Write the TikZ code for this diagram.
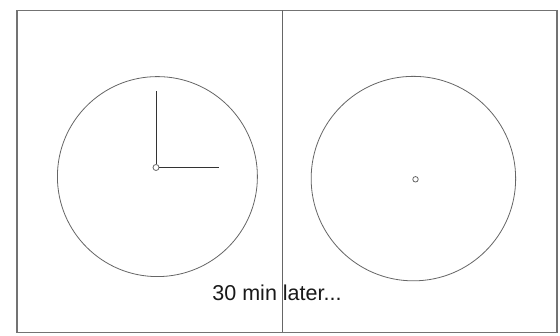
\documentclass[tikz,border=0pt]{standalone}
\usepackage{fontspec}
\setmainfont{Liberation Sans}
\begin{document}
\begin{tikzpicture}[x=1pt,y=-1pt,
  frame/.style={draw=black!55,line width=1.2pt},
  divider/.style={draw=black!60,line width=1pt},
  dial/.style={draw=black!60,line width=0.8pt},
  hand/.style={draw=black!80,line width=0.9pt},
  pivot/.style={circle,draw=black!60,line width=0.8pt,minimum size=6pt,inner sep=0pt},
  caption/.style={font=\fontsize{21.5}{24}\selectfont,text=black!90,anchor=base,inner sep=0pt}]
\useasboundingbox (0,0) rectangle (560,336);
\fill[white] (0,0) rectangle (560,336);
% frame and divider
\draw[frame] (17,10.5) rectangle (557,332.5);
\coordinate (dtop) at (282.5,10.5);
\coordinate (dbot) at (282.5,332.5);
\draw[divider] (dtop) -- (dbot);
% left clock
\node[circle,dial,minimum size=200pt,inner sep=0pt] (lface) at (157.4,176.6) {};
\node[pivot] (lpiv) at (156,167.5) {};
\coordinate (lmin) at (156,91.5);
\coordinate (lhour) at (219,167.5);
\draw[hand] (lpiv.north) -- (lmin);
\draw[hand] (lpiv.east) -- (lhour);
% right clock
\node[circle,dial,minimum size=204.5pt,inner sep=0pt] (rface) at (413.4,178.6) {};
\node[pivot,minimum size=5.5pt] (rpiv) at (415.5,179.3) {};
% caption
\node[caption] (cap) at (277,300.5) {30 min later...};
\end{tikzpicture}
\end{document}
